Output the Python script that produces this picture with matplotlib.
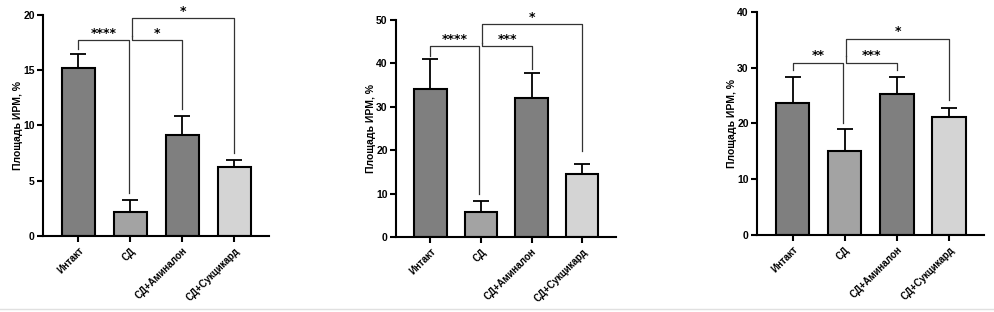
import matplotlib.pyplot as plt
from matplotlib.lines import Line2D

plt.rcParams['font.family'] = ['Liberation Sans', 'DejaVu Sans']
plt.rcParams['font.weight'] = 'bold'

# groups on the x axis
categories = ["Интакт", "СД", "СД+Аминалон", "СД+Сукцикард"]
bar_colors = ["#7f7f7f", "#a3a3a3", "#7f7f7f", "#d4d4d4"]

# panel 1
means_1 = [15.2, 2.2, 9.1, 6.2]
errs_1 = [1.3, 1.1, 1.8, 0.7]
# panel 2
means_2 = [34.1, 5.8, 32.0, 14.5]
errs_2 = [6.8, 2.6, 5.7, 2.4]
# panel 3
means_3 = [23.7, 15.1, 25.3, 21.2]
errs_3 = [4.6, 3.8, 3.0, 1.6]

# significance brackets: (i, j, level, leg_i_bottom, leg_j_bottom, stars)
brackets_1 = [(0, 1, 17.7, 16.9, 3.9, "****"),
              (1, 2, 17.7, 18.1, 11.5, "*"),
              (1, 3, 19.7, 18.1, 7.5, "*")]
brackets_2 = [(0, 1, 43.9, 41.6, 10.0, "****"),
              (1, 2, 43.9, 44.8, 38.7, "***"),
              (1, 3, 49.0, 44.8, 19.7, "*")]
brackets_3 = [(0, 1, 30.9, 29.6, 20.1, "**"),
              (1, 2, 30.9, 32.0, 29.6, "***"),
              (1, 3, 35.1, 32.0, 24.2, "*")]

y_limits = [20, 50, 40]
y_ticks = [[0, 5, 10, 15, 20], [0, 10, 20, 30, 40, 50], [0, 10, 20, 30, 40]]

# axes boxes in figure fractions (left, bottom, width, height)
boxes = [(0.0433, 0.2436, 0.2273, 0.7084),
         (0.3984, 0.2404, 0.2213, 0.6956),
         (0.7616, 0.2468, 0.2284, 0.7157)]

fig = plt.figure(figsize=(9.94, 3.12), dpi=100)

panels = [(means_1, errs_1, brackets_1),
          (means_2, errs_2, brackets_2),
          (means_3, errs_3, brackets_3)]

for k, (means, errs, brackets) in enumerate(panels):
    ax = fig.add_axes(boxes[k])
    x = list(range(len(categories)))
    ax.bar(x, means, width=0.64, color=bar_colors, edgecolor='black', linewidth=1.5, zorder=2)
    ax.errorbar(x, means, yerr=[[0] * len(errs), errs], fmt='none', ecolor='black',
                elinewidth=1.3, capsize=6, capthick=1.3, zorder=1)

    # bracket legs at the shared group sit a little apart
    for i, j, level, bot_i, bot_j, stars in brackets:
        xi = i + 0.03 if i == 1 else i
        xj = j - 0.03 if j == 1 else j
        ax.plot([xi, xi, xj, xj], [bot_i, level, level, bot_j], color='#333333', lw=0.9,
                clip_on=False)
        ax.text((xi + xj) / 2, level + y_limits[k] * 0.003, stars, ha='center', va='bottom',
                fontsize=9, fontweight='bold', family=['DejaVu Sans'])

    ax.set_xlim(-0.68, 3.67)
    ax.set_ylim(0, y_limits[k])
    ax.set_yticks(y_ticks[k])
    ax.set_xticks(x)
    ax.set_xticklabels(categories, rotation=45, ha='right', rotation_mode='anchor',
                       fontsize=7, fontweight='bold')
    ax.tick_params(axis='y', labelsize=7.5, width=1.5, length=4, pad=2)
    ax.tick_params(axis='x', width=1.5, length=4, pad=3)
    for lab in ax.get_yticklabels():
        lab.set_fontweight('bold')
    ax.set_ylabel("Площадь ИРМ, %", fontsize=7.5, fontweight='bold', labelpad=0)
    ax.spines['top'].set_visible(False)
    ax.spines['right'].set_visible(False)
    ax.spines['left'].set_linewidth(1.5)
    ax.spines['bottom'].set_linewidth(1.5)

fig.add_artist(Line2D([0, 1], [0.01, 0.01], color='#e0e0e0', lw=1))

fig.savefig("out.png", dpi=100)
